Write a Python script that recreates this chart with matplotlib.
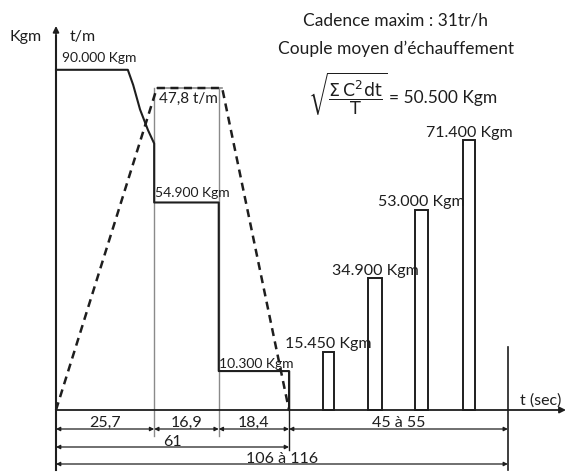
import matplotlib.pyplot as plt

plt.rcParams['font.family'] = ['Lato', 'DejaVu Sans']
plt.rcParams['mathtext.fontset'] = 'dejavusans'

INK = '#1e1e1e'
GREY = '#8a8a8a'

# ---- values ----
# press stroke, three phases (seconds)
phase_durations = [25.7, 16.9, 18.4]
phase_labels = ["25,7", "16,9", "18,4"]
peak_kgm = 90000
# falling torque curve at the end of the first phase
curve_t = [18.8, 20.2, 22.0, 24.1, 25.7]
curve_kgm = [90000, 86000, 79500, 74000, 70500]
step_kgm = [54900, 10300]
step_labels = ["54.900 Kgm", "10.300 Kgm"]
# speed profile (t/m)
tm_t = [0, 26.4, 43.5, 61.0]
tm_vals = [0, 47.8, 47.8, 0]
# return strokes
pulse_start = [69.8, 81.7, 94.0, 106.5]
pulse_width = [3.0, 3.6, 3.4, 3.2]
pulse_kgm = [15450, 34900, 53000, 71400]
pulse_labels = ["15.450 Kgm", "34.900 Kgm", "53.000 Kgm", "71.400 Kgm"]
cycle_end = 118.3
cycle_label = "45 à 55"
total_label = "106 à 116"

# ---- scales: pixels of the 567x472 sheet ----
X0, XS = 56, 3.82          # axis x pixel, px per second
BASE, KS = 410, 3.78e-3    # baseline y pixel, px per Kgm
TS = 6.736                 # px per t/m


def tx(px):
    return (px - X0) / XS


def ky(px):
    return (BASE - px) / KS


fig = plt.figure(figsize=(5.67, 4.72), dpi=100)
ax = fig.add_axes([0, 0, 1, 1])
ax.set_xlim(tx(0), tx(567))
ax.set_ylim(ky(472), ky(0))
ax.axis('off')
ax2 = ax.twinx()
ax2.set_ylim(-(472 - BASE) / TS, BASE / TS)
ax2.axis('off')

t1 = phase_durations[0]
t2 = t1 + phase_durations[1]
t3 = t2 + phase_durations[2]

# grey box of the t/m plateau and phase dividers
ax2.plot(tm_t[1:3], tm_vals[1:3], color=GREY, lw=1.2)
for t in (t1, t2):
    ax.plot([t, t], [ky(88), ky(436)], color=GREY, lw=1.0)

# torque profile
prof_t = [0, curve_t[0]] + curve_t + [t1, t2, t2, t3, t3]
prof_k = [peak_kgm, peak_kgm] + curve_kgm + [step_kgm[0], step_kgm[0],
                                             step_kgm[1], step_kgm[1], 0]
ax.plot(prof_t, prof_k, color=INK, lw=1.5)

# speed profile dashed
ax2.plot(tm_t, tm_vals, color=INK, lw=1.8, ls=(0, (3.2, 2.2)))

# return stroke pulses
ax.bar(pulse_start, pulse_kgm, width=pulse_width, align='edge', fill=False,
       edgecolor=INK, lw=1.4)

# axes
ax.plot([0, 0], [ky(470), ky(36)], color=INK, lw=1.5)
ax.annotate('', xy=(0, ky(26)), xytext=(0, ky(40)),
            arrowprops=dict(arrowstyle='-|>', color=INK, lw=1.2, mutation_scale=9,
                            shrinkA=0, shrinkB=0))
ax.annotate('', xy=(tx(566), 0), xytext=(0, 0),
            arrowprops=dict(arrowstyle='-|>', color=INK, lw=1.3, mutation_scale=9,
                            shrinkA=0, shrinkB=0))
ax.text(tx(26), ky(37), "Kgm", fontsize=11.5, ha='center', va='center', color=INK)
ax.text(tx(83), ky(37), "t/m", fontsize=11.5, ha='center', va='center', color=INK)
ax.text(tx(541), ky(401), "t (sec)", fontsize=11.5, ha='center', va='center', color=INK)

# extension lines
ax.plot([t3, t3], [step_kgm[1], ky(450)], color=INK, lw=1.0)
ax.plot([cycle_end, cycle_end], [ky(347), ky(470)], color=INK, lw=1.2)


def dim(a, b, ypx, label, lpx):
    ax.annotate('', xy=(b, ky(ypx)), xytext=(a, ky(ypx)),
                arrowprops=dict(arrowstyle='<|-|>', color=INK, lw=0.9,
                                mutation_scale=6, shrinkA=0, shrinkB=0))
    ax.text((a + b) / 2, ky(lpx), label, fontsize=11.5, ha='center', va='center',
            color=INK)


starts = [0, t1, t2]
for s, d, lab in zip(starts, phase_durations, phase_labels):
    dim(s, s + d, 429, lab, 423)
dim(t3, cycle_end, 429, cycle_label, 423)
dim(0, t3, 447, "61", 442)
dim(0, cycle_end, 464, total_label, 459)

# value labels
ax.text(tx(62), ky(58), "90.000 Kgm", fontsize=10, ha='left', va='center', color=INK)
ax2.text(tx(159), (BASE - 99) / TS, "47,8 t/m", fontsize=11, ha='left', va='center',
         color=INK)
ax.text(tx(155), ky(193), step_labels[0], fontsize=10, ha='left', va='center', color=INK)
ax.text(tx(219), ky(364), step_labels[1], fontsize=10, ha='left', va='center', color=INK)
for s, w, k, lab in zip(pulse_start, pulse_width, pulse_kgm, pulse_labels):
    ax.text(s + w / 2, k, lab + "\n", fontsize=11.5, ha='center', va='center',
            color=INK, linespacing=1.1)

# header
ax.text(tx(396), ky(20), "Cadence maxim : 31tr/h", fontsize=12.5, ha='center',
        va='center', color=INK)
ax.text(tx(396), ky(49), "Couple moyen d’échauffement", fontsize=12.5, ha='center',
        va='center', color=INK)
ax.text(tx(348), ky(94),
        r"$\sqrt{\dfrac{\Sigma\,\mathrm{C}^2\mathrm{dt}}{\mathrm{T}}}$",
        fontsize=12.5, ha='center', va='center', color=INK)
ax.text(tx(389), ky(98), "= 50.500 Kgm", fontsize=12.5, ha='left', va='center',
        color=INK)

fig.savefig('out.png', dpi=100)
